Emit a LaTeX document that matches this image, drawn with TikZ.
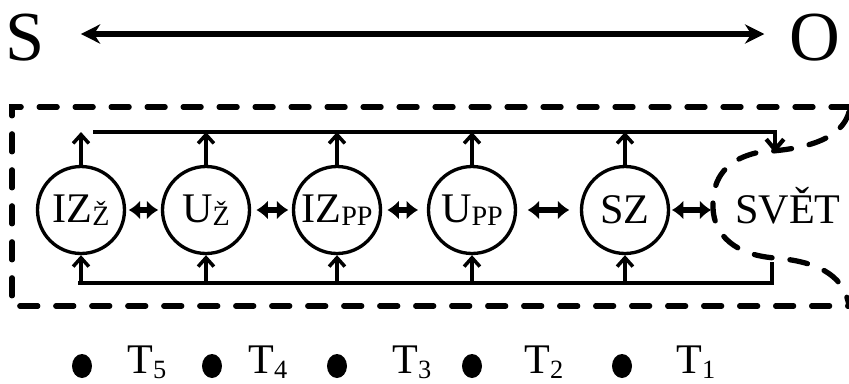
\documentclass[tikz,border=0pt]{standalone}
\usepackage{fontspec}
\setmainfont{Liberation Serif}
\usetikzlibrary{arrows.meta}
\newcommand{\lowsub}[1]{\raisebox{-1.5pt}{\fontsize{16}{16}\selectfont #1}}
\newcommand{\tsub}[1]{\raisebox{-3pt}{\fontsize{15}{15}\selectfont #1}}
\begin{document}
\begin{tikzpicture}[x=0.02cm, y=-0.02cm,
    proc/.style={circle, draw, line width=1.9pt, minimum size=1.74cm, inner sep=0pt, font=\fontsize{24}{24}\selectfont},
    chan/.style={line width=2.8pt},
    rise/.style={line width=2pt, -{Straight Barb[length=5pt, width=9pt, line width=2pt]}},
    swap/.style={line width=3.4pt, {Latex[length=6.5pt, width=11pt]}-{Latex[length=6.5pt, width=11pt]}},
    bound/.style={line width=3pt, dash pattern=on 0.36cm off 0.36cm, line cap=round},
    big/.style={font=\fontsize{40}{40}\selectfont, inner sep=0pt},
    lbl/.style={font=\fontsize{24}{24}\selectfont, inner sep=0pt, anchor=base west}]
  \useasboundingbox (0,0) rectangle (849,383);
  % S -- O axis
  \node[big] (s) at (25,38) {S};
  \node[big] (o) at (815,38) {O};
  \draw[line width=3.5pt, {Stealth[length=11pt, width=11pt]}-{Stealth[length=11pt, width=11pt]},
    shorten <=0.72cm, shorten >=0.5cm] ([yshift=0.08cm]s.east) -- ([yshift=0.08cm]o.west);
  % processes
  \node[proc] (izz) at (81,210) {IZ\lowsub{Ž}};
  \node[proc] (uz) at (206,210) {U\lowsub{Ž}};
  \node[proc] (izpp) at (337,210) {IZ\lowsub{PP}};
  \node[proc] (upp) at (472,210) {U\lowsub{PP}};
  \node[proc] (sz) at (625,210) {SZ};
  \node[font=\fontsize{24}{24}\selectfont, inner sep=0pt] (svet) at (788,206) {SVĚT};
  % channels
  \coordinate (tl) at (93,132);
  \coordinate (tr) at (775,132);
  \coordinate (td) at (775,153);
  \coordinate (bl) at (78,283);
  \coordinate (br) at (772,283);
  \coordinate (bu) at (772,262);
  \coordinate (ws) at (713,210);
  \draw[chan, -{Straight Barb[length=6pt, width=10pt, line width=2.4pt]}] (tl) -- (tr) -- (td);
  \draw[chan] (bu) -- (br) -- (bl);
  \foreach \n in {izz,uz,izpp,upp,sz} {
    \draw[rise] (\n.north) -- (\n.north |- tl);
    \draw[rise] (\n.south |- bl) -- (\n.south);
  }
  \draw[swap, shorten <=1.5pt, shorten >=1.5pt] (izz) -- (uz);
  \draw[swap, shorten <=3pt, shorten >=2pt] (uz) -- (izpp);
  \draw[swap, shorten <=3pt, shorten >=5pt] (izpp) -- (upp);
  \draw[swap, shorten <=6pt, shorten >=6pt] (upp) -- (sz);
  \draw[swap, shorten <=1pt, shorten >=1pt] (sz) -- (ws);
  % boundary
  \draw[bound] (849,107) -- (12,107) -- (12,306) -- (849,306);
  \draw[bound] (849,112) .. controls (840,145) and (790,150) .. (760,152)
    .. controls (720,160) and (712,185) .. (713,208)
    .. controls (714,235) and (735,255) .. (775,258)
    .. controls (825,262) and (845,280) .. (849,306);
  % time levels
  \foreach \d/\t/\k in {82/127/5, 212/248/4, 337/392/3, 472/524/2, 622/676/1} {
    \fill (\d,366) ellipse (0.2cm and 0.24cm);
    \node[lbl] (t\k) at (\t,373) {T\tsub{\k}};
  }
\end{tikzpicture}
\end{document}
